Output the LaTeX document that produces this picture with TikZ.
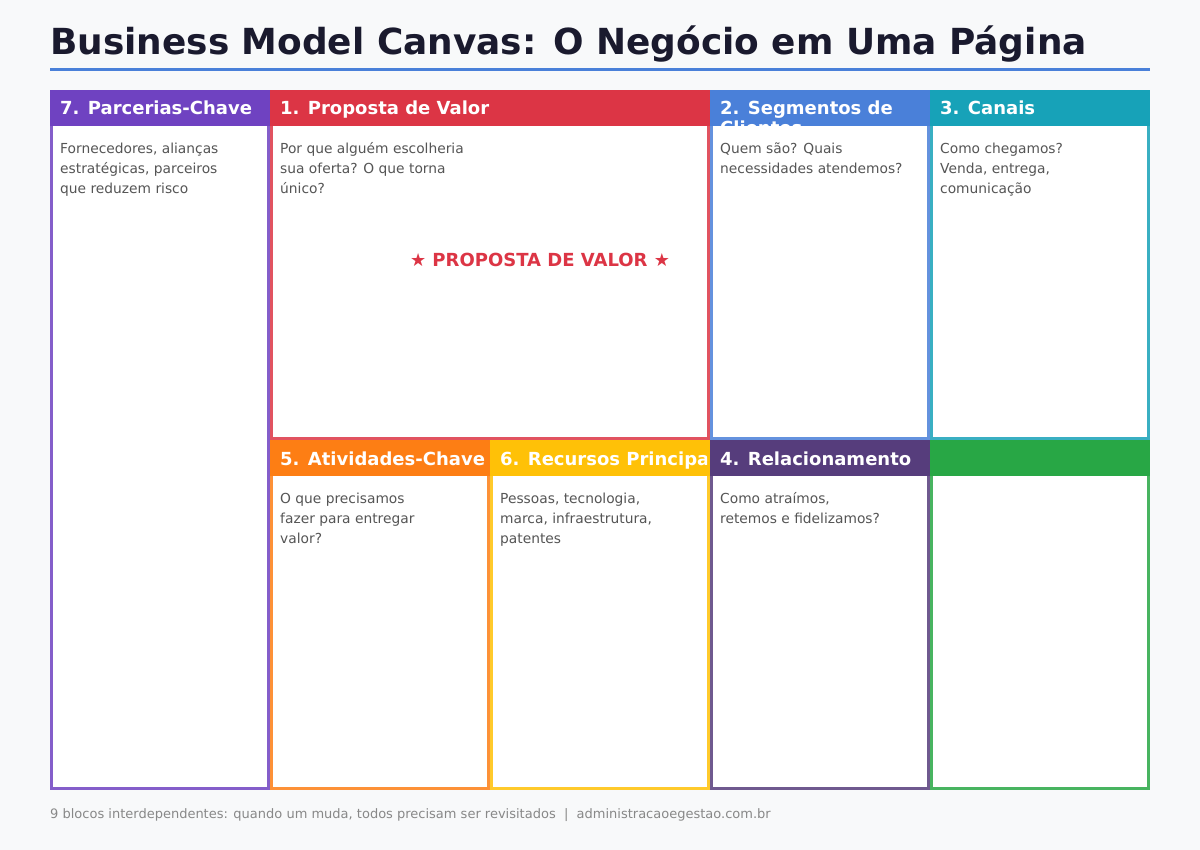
\documentclass[tikz,border=0pt]{standalone}
\usepackage{fontspec}
\setmainfont{DejaVu Sans}
\definecolor{bg}{HTML}{F8F9FA}
\definecolor{titlec}{HTML}{1A1A2E}
\definecolor{bodyc}{HTML}{555555}
\definecolor{footc}{HTML}{888888}
\definecolor{cpurple}{HTML}{6F42C1}
\definecolor{cred}{HTML}{DC3545}
\definecolor{cblue}{HTML}{4A80D9}
\definecolor{cteal}{HTML}{17A2B8}
\definecolor{corange}{HTML}{FD7E14}
\definecolor{cyellow}{HTML}{FFC107}
\definecolor{cdpurple}{HTML}{563D7C}
\definecolor{cgreen}{HTML}{28A745}
\tikzset{
  hdr/.style={inner sep=0pt, anchor=base west, text=white,
    font=\bfseries\fontsize{18}{20}\selectfont},
  bodytxt/.style={inner sep=0pt, anchor=base west, text=bodyc,
    font=\fontsize{13.8}{20}\selectfont},
  frame/.style={line width=3pt, draw opacity=.85}
}
\newcommand\toplines[1]{\begin{tabular}[t]{@{}l@{}}#1\end{tabular}}
\newcommand\bmcbox[8]{%
  \fill[white] (#2,#3) rectangle ++(#4,#5);
  \fill[#6] (#2,#3) rectangle ++(#4,36);
  \begin{scope}
    \clip (#2,#3) rectangle ++(#4,36);
    \node[hdr] (#1-t) at (#2+10,#3+25) {\toplines{#7}};
  \end{scope}
  \draw[#6, frame] (#2+1.5,#3+1.5) rectangle (#2+#4-1.5,#3+#5-1.5);
  \node[bodytxt] (#1-b) at (#2+10,#3+63.5) {\toplines{#8}};
}
\begin{document}
\begin{tikzpicture}[x=1pt,y=-1pt]
\useasboundingbox (0,0) rectangle (1200,850);
\fill[bg] (0,0) rectangle (1200,850);
\node[inner sep=0pt, anchor=base west, text=titlec,
  font=\bfseries\fontsize{35.9}{40}\selectfont] (title) at (50,55)
  {Business Model Canvas: O Negócio em Uma Página};
\coordinate (ruleA) at (50,70);
\coordinate (ruleB) at (1150,70);
\draw[cblue, line width=3pt] (ruleA) -- (ruleB);

\bmcbox{parc}{50}{90}{220}{700}{cpurple}{7. Parcerias-Chave}{Fornecedores, alianças\\estratégicas, parceiros\\que reduzem risco}
\bmcbox{prop}{270}{90}{440}{350}{cred}{1. Proposta de Valor}{Por que alguém escolheria\\sua oferta? O que torna\\único?}
\bmcbox{seg}{710}{90}{220}{350}{cblue}{2. Segmentos de\\Clientes}{Quem são? Quais\\necessidades atendemos?}
\bmcbox{can}{930}{90}{220}{350}{cteal}{3. Canais}{Como chegamos?\\Venda, entrega,\\comunicação}
\bmcbox{ativ}{270}{440}{220}{350}{corange}{5. Atividades-Chave}{O que precisamos\\fazer para entregar\\valor?}
\bmcbox{rec}{490}{440}{220}{350}{cyellow}{6. Recursos Principais}{Pessoas, tecnologia,\\marca, infraestrutura,\\patentes}
\bmcbox{rel}{710}{440}{220}{350}{cdpurple}{4. Relacionamento}{Como atraímos,\\retemos e fidelizamos?}
% green block (no text)
\fill[white] (930,440) rectangle ++(220,350);
\fill[cgreen] (930,440) rectangle ++(220,36);
\draw[cgreen, frame] (931.5,441.5) rectangle (1148.5,788.5);

\node[inner sep=0pt, anchor=base, text=cred,
  font=\bfseries\fontsize{18}{20}\selectfont] (star) at (540,267)
  {★ PROPOSTA DE VALOR ★};

\node[inner sep=0pt, anchor=base west, text=footc,
  font=\fontsize{13}{15}\selectfont] (foot) at (50,818)
  {9 blocos interdependentes: quando um muda, todos precisam ser revisitados~~|~~administracaoegestao.com.br};
\end{tikzpicture}
\end{document}
